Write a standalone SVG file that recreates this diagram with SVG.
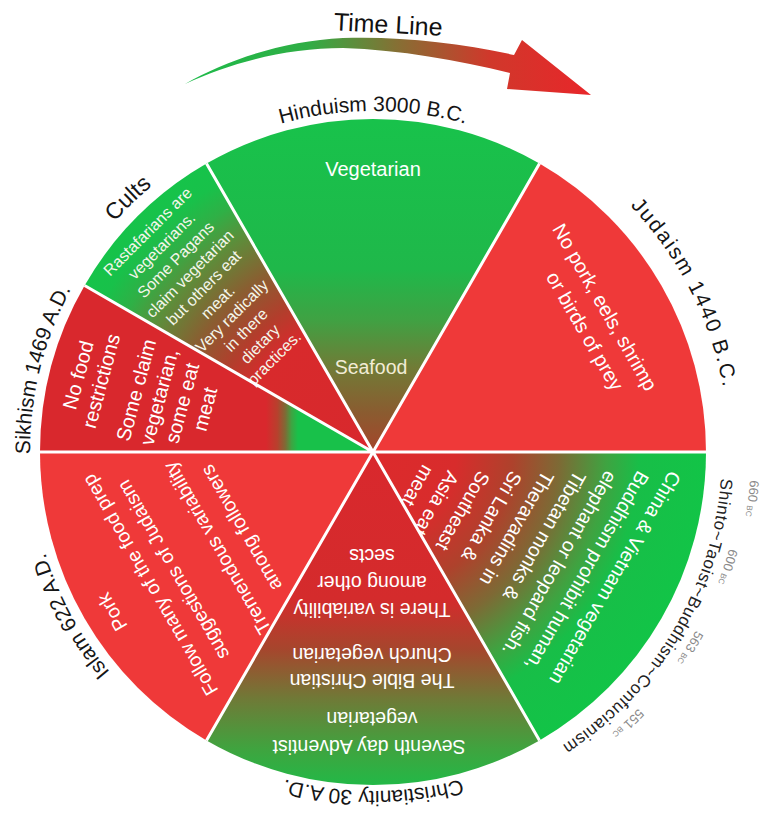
<svg xmlns="http://www.w3.org/2000/svg" width="766" height="821" viewBox="0 0 766 821">
<style>
.in{font-family:"Liberation Sans",Arial,sans-serif;fill:#ffffff;text-anchor:middle;font-size:19.5px}
.ins{font-family:"Liberation Sans",Arial,sans-serif;fill:#ffffff;text-anchor:start;font-size:19.5px}
.cu{font-family:"Liberation Sans",Arial,sans-serif;fill:#f4f6ea;text-anchor:middle;font-size:16px}
.lbl{font-family:"Liberation Sans",Arial,sans-serif;fill:#151515;font-size:21px;text-anchor:middle}
.date{font-family:"Liberation Sans",Arial,sans-serif;fill:#8a8a8a;font-size:13px;text-anchor:middle}
.sep{stroke:#ffffff;stroke-width:3;fill:none}
</style>
<defs>
<linearGradient id="gHindu" gradientUnits="userSpaceOnUse" x1="0" y1="120" x2="0" y2="452">
<stop offset="0" stop-color="#18c24b"/>
<stop offset="0.45" stop-color="#1fb84a"/>
<stop offset="0.6" stop-color="#3fa243"/>
<stop offset="0.75" stop-color="#727a36"/>
<stop offset="0.88" stop-color="#8a5c30"/>
<stop offset="1" stop-color="#a5452b"/>
</linearGradient>
<radialGradient id="gBudd" gradientUnits="userSpaceOnUse" cx="373" cy="452" r="333">
<stop offset="0" stop-color="#dd2a2c"/>
<stop offset="0.25" stop-color="#d82c2c"/>
<stop offset="0.42" stop-color="#ae422c"/>
<stop offset="0.56" stop-color="#7d6a35"/>
<stop offset="0.7" stop-color="#3fa341"/>
<stop offset="0.8" stop-color="#18be48"/>
<stop offset="1" stop-color="#12c447"/>
</radialGradient>
<linearGradient id="gChrist" gradientUnits="userSpaceOnUse" x1="0" y1="452" x2="0" y2="786">
<stop offset="0" stop-color="#d9282d"/>
<stop offset="0.44" stop-color="#d42b2c"/>
<stop offset="0.59" stop-color="#a6462d"/>
<stop offset="0.74" stop-color="#6f7a37"/>
<stop offset="0.89" stop-color="#3fa43f"/>
<stop offset="1" stop-color="#22b947"/>
</linearGradient>
<radialGradient id="gCult" gradientUnits="userSpaceOnUse" cx="373" cy="452" r="333">
<stop offset="0" stop-color="#d8282d"/>
<stop offset="0.4" stop-color="#d82a2c"/>
<stop offset="0.5" stop-color="#b23e2c"/>
<stop offset="0.62" stop-color="#8a5e31"/>
<stop offset="0.75" stop-color="#5e8c3a"/>
<stop offset="0.85" stop-color="#2fb046"/>
<stop offset="0.93" stop-color="#18c14a"/>
<stop offset="1" stop-color="#16c34a"/>
</radialGradient>
<linearGradient id="gSikh" gradientUnits="userSpaceOnUse" x1="266" y1="0" x2="298" y2="0">
<stop offset="0" stop-color="#d9282d"/>
<stop offset="0.35" stop-color="#b8402d"/>
<stop offset="0.6" stop-color="#7f6a35"/>
<stop offset="0.8" stop-color="#3ea442"/>
<stop offset="1" stop-color="#18c14a"/>
</linearGradient>
<linearGradient id="gArrow" gradientUnits="userSpaceOnUse" x1="185" y1="0" x2="591" y2="0">
<stop offset="0" stop-color="#1dbb4a"/>
<stop offset="0.3" stop-color="#2fae45"/>
<stop offset="0.52" stop-color="#857034"/>
<stop offset="0.75" stop-color="#d0382b"/>
<stop offset="1" stop-color="#e8262a"/>
</linearGradient>
<path id="pHindu" d="M153.8,190.8 A341,341 0 0 1 592.2,190.8"/>
<path id="pJuda" d="M512.1,124.3 A356,356 0 0 1 719.9,532.1"/>
<path id="pShinto" d="M717.5,396.2 A349,349 0 0 1 487.8,781.6"/>
<path id="pChrist" d="M590.9,711.7 A339,339 0 0 1 155.1,711.7"/>
<path id="pIslam" d="M247.3,771.1 A343,343 0 0 1 36.9,383.6"/>
<path id="pSikh" d="M64.7,602.4 A343,343 0 0 1 171.4,174.5"/>
<path id="pCult" d="M40.4,356.6 A346,346 0 0 1 289.3,116.3"/>
<path id="pDate" d="M742,452 A369,369 0 0 1 499.2,798.7"/>
<path id="pDate0" d="M751,452 A378,378 0 0 1 700.4,641"/>
</defs>
<rect width="766" height="821" fill="#ffffff"/>

<g id="timeline">
<path d="M185,84 C228,59 285,41 343,38 C400,36 460,43 514,55 L522,40 L591,95 L507,89 L510,73 C458,60 400,50 343,48 C288,48 232,62 185,84 Z" fill="url(#gArrow)"/>
<text x="388" y="33" transform="rotate(3 388 28)" font-family="Liberation Sans, Arial, sans-serif" font-size="25" fill="#111" text-anchor="middle">Time Line</text>
</g>

<g id="hinduism">
<path d="M373,452 L539.5,163.6 A333,333 0 0 0 206.5,163.6 Z" fill="url(#gHindu)"/>
<text class="in" x="373" y="169" dy=".35em" style="font-size:20px">Vegetarian</text>
<text class="in" x="371" y="367" dy=".35em" style="fill:#f2ecd6">Seafood</text>
<text class="lbl"><textPath href="#pHindu" startOffset="50%">Hinduism 3000 B.C.</textPath></text>
</g>

<g id="judaism">
<path d="M373,452 L706,452 A333,333 0 0 0 539.5,163.6 Z" fill="#ef3939"/>
<text class="in" transform="translate(605 307) rotate(60)" dy=".35em" style="font-size:20px">No pork, eels, shrimp</text>
<text class="in" transform="translate(585 331) rotate(60)" dy=".35em" style="font-size:20px">or birds of prey</text>
<text class="lbl" style="letter-spacing:1.8px"><textPath href="#pJuda" startOffset="50%">Judaism 1440 B.C.</textPath></text>
</g>

<g id="buddhism">
<path d="M373,452 L539.5,740.4 A333,333 0 0 0 706,452 Z" fill="url(#gBudd)"/>
<text class="ins" transform="translate(676 473) rotate(120)" dy=".35em">China &amp; Vietnam vegetarian</text>
<text class="ins" transform="translate(644 473) rotate(120)" dy=".35em">Buddhism prohibit human,</text>
<text class="ins" transform="translate(612 473) rotate(120)" dy=".35em">elephant or leopard fish.</text>
<text class="ins" transform="translate(581 473) rotate(120)" dy=".35em">Tibetan monks &amp;</text>
<text class="ins" transform="translate(549 473) rotate(120)" dy=".35em">Theravadins in</text>
<text class="ins" transform="translate(517 473) rotate(120)" dy=".35em">Sri Lanka &amp;</text>
<text class="ins" transform="translate(485 473) rotate(120)" dy=".35em">Southeast</text>
<text class="ins" transform="translate(454 473) rotate(120)" dy=".35em">Asia eat</text>
<text class="ins" transform="translate(429 467) rotate(120)" dy=".35em">meat.</text>
<text class="lbl" style="font-size:17px;fill:#222;letter-spacing:0.6px"><textPath href="#pShinto" startOffset="50%">Shinto~Taoist~Buddhism~Confucianism</textPath></text>
<text class="date"><textPath href="#pDate0" startOffset="46.2">660 <tspan style="font-size:8px">BC</tspan></textPath></text>
<text class="date"><textPath href="#pDate" startOffset="115.9">600 <tspan style="font-size:8px">BC</tspan></textPath></text>
<text class="date"><textPath href="#pDate" startOffset="204.2">563 <tspan style="font-size:8px">BC</tspan></textPath></text>
<text class="date"><textPath href="#pDate" startOffset="301.4">551 <tspan style="font-size:8px">BC</tspan></textPath></text>
</g>

<g id="christianity">
<path d="M373,452 L206.5,740.4 A333,333 0 0 0 539.5,740.4 Z" fill="url(#gChrist)"/>
<text class="in" transform="translate(369 747) rotate(180)" dy=".35em">Seventh day Adventist</text>
<text class="in" transform="translate(372 719) rotate(180)" dy=".35em">vegetarian</text>
<text class="in" transform="translate(372 681) rotate(180)" dy=".35em">The Bible Christian</text>
<text class="in" transform="translate(372 655) rotate(180)" dy=".35em">Church vegetarian</text>
<text class="in" transform="translate(372 610) rotate(180)" dy=".35em">There is variability</text>
<text class="in" transform="translate(372 583) rotate(180)" dy=".35em">among other</text>
<text class="in" transform="translate(372 556) rotate(180)" dy=".35em">sects</text>
<text class="lbl"><textPath href="#pChrist" startOffset="50%">Christianity 30 A.D.</textPath></text>
</g>

<g id="islam">
<path d="M373,452 L40,452 A333,333 0 0 0 206.5,740.4 Z" fill="#ef3939"/>
<text class="in" transform="translate(112 612) rotate(240)" dy=".35em">Pork</text>
<text class="in" transform="translate(150 585) rotate(240)" dy=".35em">Follow many of the food prep</text>
<text class="in" transform="translate(173 570) rotate(240)" dy=".35em">suggestions of Judaism</text>
<text class="in" transform="translate(217 548) rotate(240)" dy=".35em">Tremendous variability</text>
<text class="in" transform="translate(241 528) rotate(240)" dy=".35em">among followers</text>
<text class="lbl"><textPath href="#pIslam" startOffset="50%">Islam 622 A.D.</textPath></text>
</g>

<g id="sikhism">
<path d="M373,452 L84.6,285.5 A333,333 0 0 0 40,452 Z" fill="url(#gSikh)"/>
<text class="in" transform="translate(78 375) rotate(-75)" dy=".35em" style="font-size:20px">No food</text>
<text class="in" transform="translate(101 381) rotate(-75)" dy=".35em" style="font-size:20px">restrictions</text>
<text class="in" transform="translate(136 390) rotate(-75)" dy=".35em" style="font-size:20px">Some claim</text>
<text class="in" transform="translate(159 397) rotate(-75)" dy=".35em" style="font-size:20px">vegetarian,</text>
<text class="in" transform="translate(182 403) rotate(-75)" dy=".35em" style="font-size:20px">some eat</text>
<text class="in" transform="translate(205 409) rotate(-75)" dy=".35em" style="font-size:20px">meat</text>
<text class="lbl"><textPath href="#pSikh" startOffset="50%">Sikhism 1469 A.D.</textPath></text>
</g>

<g id="cults">
<path d="M373,452 L206.5,163.6 A333,333 0 0 0 84.6,285.5 Z" fill="url(#gCult)"/>
<text class="cu" transform="translate(147.5 231.5) rotate(-45)" dy=".35em">Rastafarians are</text>
<text class="cu" transform="translate(161.6 245.6) rotate(-45)" dy=".35em">vegetarians.</text>
<text class="cu" transform="translate(175.6 259.6) rotate(-45)" dy=".35em">Some Pagans</text>
<text class="cu" transform="translate(189.7 273.7) rotate(-45)" dy=".35em">claim vegetarian</text>
<text class="cu" transform="translate(203.7 287.7) rotate(-45)" dy=".35em">but others eat</text>
<text class="cu" transform="translate(217.8 301.8) rotate(-45)" dy=".35em">meat.</text>
<text class="cu" transform="translate(231.8 315.8) rotate(-45)" dy=".35em">Very radically</text>
<text class="cu" transform="translate(245.9 329.9) rotate(-45)" dy=".35em">in there</text>
<text class="cu" transform="translate(259.9 343.9) rotate(-45)" dy=".35em">dietary</text>
<text class="cu" transform="translate(274 358) rotate(-45)" dy=".35em">practices.</text>
<text class="lbl" style="font-size:23px"><textPath href="#pCult" startOffset="50%">Cults</textPath></text>
</g>

<g id="connectors">
<path class="sep" d="M373,452 L706,452 M373,452 L539.5,163.6 M373,452 L206.5,163.6 M373,452 L84.6,285.5 M373,452 L40,452 M373,452 L206.5,740.4 M373,452 L539.5,740.4"/>
</g>
</svg>
